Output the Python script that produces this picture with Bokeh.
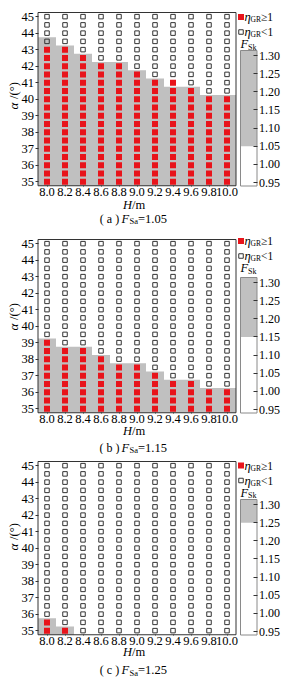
import math
from bokeh.plotting import figure
from bokeh.layouts import column
from bokeh.models import Range1d, LinearAxis, FixedTicker, PrintfTickFormatter, Label
from bokeh.embed import file_html
from bokeh.resources import INLINE

# ---------------- data ----------------
H = [8.0, 8.2, 8.4, 8.6, 8.8, 9.0, 9.2, 9.4, 9.6, 9.8, 10.0]
ALPHA = [35.0, 35.5, 36.0, 36.5, 37.0, 37.5, 38.0, 38.5, 39.0, 39.5, 40.0,
         40.5, 41.0, 41.5, 42.0, 42.5, 43.0, 43.5, 44.0, 44.5, 45.0]
ALPHA_TICKS = [35, 36, 37, 38, 39, 40, 41, 42, 43, 44, 45]
FSK_TICKS = [0.95, 1.00, 1.05, 1.10, 1.15, 1.20, 1.25, 1.30]
FSA = [1.05, 1.15, 1.25]
LETTERS = ["a", "b", "c"]

# highest alpha with eta_GR >= 1 for each H (None = none)
RED_TOP_A = [43.0, 43.0, 42.5, 42.0, 42.0, 41.5, 41.0, 41.0, 40.5, 40.0, 40.0]
RED_TOP_B = [39.0, 38.5, 38.5, 38.0, 37.5, 37.5, 37.0, 36.5, 36.5, 36.0, 36.0]
RED_TOP_C = [35.5, 35.0, None, None, None, None, None, None, None, None, None]
# upper edge of the F_Sk >= F_Sa (grey) region for each H
GRAY_TOP_A = [43.75, 43.25, 42.75, 42.25, 42.25, 41.75, 41.25, 40.75, 40.75, 40.25, 40.25]
GRAY_TOP_B = [39.25, 38.75, 38.75, 38.25, 37.75, 37.75, 37.25, 36.75, 36.75, 36.25, 36.25]
GRAY_TOP_C = [35.75, 35.25, None, None, None, None, None, None, None, None, None]

# ---------------- style / layout ----------------
FONT = "Liberation Serif"
RED = "#e8141b"
GREY = "#c0c0c0"
DARK = "#333333"
TXT = "#000000"
W = 294
PXX = 90.0          # px per metre
PXY = 16.5          # px per degree
BOXL = 37.5         # px of box left edge (x = 7.9)
K = 127 / 0.35      # px per F_Sk unit in colour bar
X_LO, X_HI = 7.9, 10.1
Y_LO, Y_HI = 34.75, 45.25


def make_panel(red_top, gray_top, fsa, letter, hfig, top, ylab_c, xt_dy, cap_dy, leg_dy):
    XS = X_LO - BOXL / PXX
    XE = XS + W / PXX
    YE = Y_HI + top / PXY
    YS = YE - hfig / PXY
    cb_hi = 1.30 + (top + 43) / K
    cb_lo = 1.30 - (hfig - top - 43) / K

    p = figure(width=W, height=hfig, x_range=Range1d(XS, XE), y_range=Range1d(YS, YE),
               x_axis_location=None, y_axis_location=None,
               min_border_left=0, min_border_right=0, min_border_top=0, min_border_bottom=0,
               output_backend="svg", toolbar_location=None)
    p.extra_y_ranges = {"cb": Range1d(cb_lo, cb_hi)}
    p.outline_line_color = None
    p.grid.visible = False
    p.background_fill_color = "white"
    p.border_fill_color = "white"

    def xd(px):
        return XS + px / PXX

    def yd(py):
        return YE - py / PXY

    # grey region (step outline)
    xs, ys = [H[0] - 0.1], [Y_LO]
    last = H[0]
    for h, g in zip(H, gray_top):
        if g is None:
            continue
        xs += [h - 0.1, h + 0.1]
        ys += [g, g]
        last = h
    xs.append(last + 0.1)
    ys.append(Y_LO)
    p.patch(xs, ys, fill_color=GREY, line_color=None)

    # main box
    p.quad(left=[X_LO], right=[X_HI], bottom=[Y_LO], top=[Y_HI],
           fill_color=None, line_color=DARK, line_width=1)

    # grid points
    rx, ry, hx, hy = [], [], [], []
    for h, rt in zip(H, red_top):
        for a in ALPHA:
            if rt is not None and a <= rt:
                rx.append(h); ry.append(a)
            else:
                hx.append(h); hy.append(a)
    p.scatter(hx, hy, marker="square", size=4.5, fill_color=None,
              line_color=DARK, line_width=1)
    p.scatter(rx, ry, marker="square", size=6, fill_color=RED, line_color=None)

    # axes (fixed on the box edges)
    xax = LinearAxis(fixed_location=Y_LO, ticker=FixedTicker(ticks=H),
                     formatter=PrintfTickFormatter(format="%.1f"))
    yax = LinearAxis(fixed_location=X_LO, ticker=FixedTicker(ticks=ALPHA_TICKS),
                     formatter=PrintfTickFormatter(format="%d"))
    for ax in (xax, yax):
        ax.axis_line_color = None
        ax.major_tick_in = 0
        ax.major_tick_out = 3
        ax.major_tick_line_color = DARK
        ax.minor_tick_line_color = None
        ax.major_label_text_font = FONT
        ax.major_label_text_font_size = "12.5px"
        ax.major_label_text_color = TXT
        ax.major_label_standoff = 1
    xax.major_tick_out = 1
    p.add_layout(xax, "below")
    p.add_layout(yax, "left")

    # colour bar
    bx0, bx1 = xd(240), xd(256.5)
    bar_lo = 0.95 - 3.5 / K
    bar_hi = 1.30 + 5 / K
    p.quad(left=[bx0], right=[bx1], bottom=[bar_lo], top=[fsa],
           fill_color="white", line_color=None, y_range_name="cb")
    p.quad(left=[bx0], right=[bx1], bottom=[fsa], top=[bar_hi],
           fill_color=GREY, line_color=None, y_range_name="cb")
    p.quad(left=[bx0], right=[bx1], bottom=[bar_lo], top=[bar_hi],
           fill_color=None, line_color="#8a8a8a", line_width=1, y_range_name="cb")
    cax = LinearAxis(y_range_name="cb", fixed_location=bx1,
                     ticker=FixedTicker(ticks=FSK_TICKS),
                     formatter=PrintfTickFormatter(format="%.2f"))
    cax.axis_line_color = None
    cax.major_tick_in = 4
    cax.major_tick_out = 0
    cax.major_tick_line_color = DARK
    cax.minor_tick_line_color = None
    cax.major_label_text_font = FONT
    cax.major_label_text_font_size = "12px"
    cax.major_label_text_color = TXT
    cax.major_label_standoff = 2
    p.add_layout(cax, "right")

    def lab(px, py, text, size="12px", style="normal", align="left", angle=0.0):
        p.add_layout(Label(x=xd(px), y=yd(py), text=text, text_font=FONT,
                           text_font_size=size, text_font_style=style,
                           text_align=align, text_baseline="middle",
                           text_color=TXT, angle=angle))

    # legend
    l1 = top + leg_dy
    l2 = l1 + 15
    p.scatter([xd(240.5)], [yd(l1)], marker="square", size=6,
              fill_color=RED, line_color=None)
    p.scatter([xd(240.5)], [yd(l2)], marker="square", size=4.5,
              fill_color=None, line_color=DARK, line_width=1)
    for ly, rel in ((l1, "\u2265"), (l2, "<")):
        lab(244, ly, "\u03b7", "12.5px", "italic")
        lab(250, ly + 2.5, "GR", "7.5px")
        lab(260.5, ly, rel + "1", "11.5px")
    lab(240, l1 + 27, "F", "12.5px", "italic")
    lab(247.5, l1 + 30, "Sk", "8px")

    # y axis title (rotated)
    lab(13, top + ylab_c + 9.5, "\u03b1", "13px", "italic", "center", math.pi / 2)
    lab(13, top + ylab_c - 6, "/(\u00b0)", "12.5px", "normal", "center", math.pi / 2)

    # x axis title
    bot = top + (Y_HI - Y_LO) * PXY
    lab(131.5, bot + xt_dy, "H", "12.5px", "italic", "right")
    lab(131.5, bot + xt_dy, "/m", "12.5px")

    # caption
    cy = bot + cap_dy
    lab(109, cy, "( " + letter + " )", "12px", "normal", "center")
    lab(121, cy, "F", "12.5px", "italic")
    lab(129, cy + 2.5, "Sa", "8.5px")
    lab(137.5, cy, "=%.2f" % fsa, "12.5px")
    return p


p1 = make_panel(RED_TOP_A, GRAY_TOP_A, FSA[0], LETTERS[0], 227, 12, 84, 19, 33, 4.5)
p2 = make_panel(RED_TOP_B, GRAY_TOP_B, FSA[1], LETTERS[1], 227, 12, 78, 18, 35, 1.5)
p3 = make_panel(RED_TOP_C, GRAY_TOP_C, FSA[2], LETTERS[2], 225, 7, 76, 17.5, 35.5, 4)

layout = column(p1, p2, p3, spacing=0)
open("out.html", "w").write(file_html(layout, INLINE))
